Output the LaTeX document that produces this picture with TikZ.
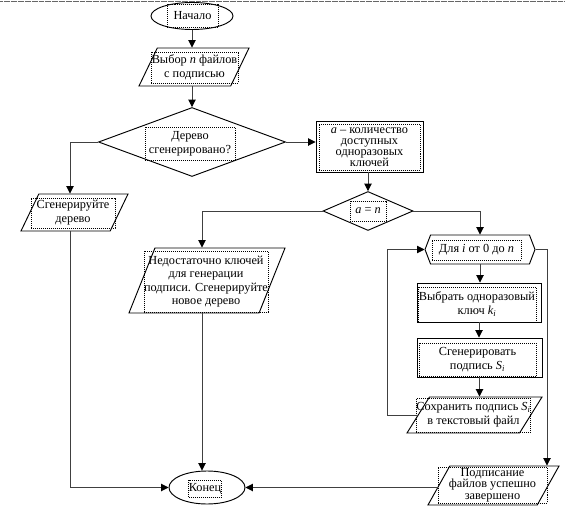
\documentclass[tikz,border=0pt]{standalone}
\usepackage{fontspec}
\setmainfont{Liberation Serif}
\usetikzlibrary{shapes.geometric, shapes.symbols, arrows.meta}

\tikzset{
    outline/.style={draw=black, line width=0.8pt, inner sep=1pt},
    terminal/.style={outline, ellipse},
    io/.style={outline, trapezium, trapezium left angle=76, trapezium right angle=104, trapezium stretches=true},
    process/.style={outline, rectangle},
    decision/.style={outline, diamond},
    loophead/.style={outline, signal, signal to=west and east, signal pointer angle=138},
    textframe/.style={draw=black, line width=0.6pt, dash pattern=on 0.85pt off 0.85pt, inner sep=0pt, align=center, font=\fontsize{10.5}{12}\selectfont},
    conn/.style={draw=black!75, line width=0.75pt},
    connarrow/.style={conn, -{Triangle[length=2.2mm, width=2.2mm, black]}}
}

\begin{document}
\begin{tikzpicture}[x=0.3mm, y=-0.3mm]
  \useasboundingbox (0,0) rectangle (565,518);
  \draw[black!60, line width=0.6pt, dash pattern=on 0.5pt off 0.5pt] (0,1) -- (565,1);

  % vertical lines of the branches
  \coordinate (leftx) at (70,0);
  \coordinate (midx) at (202,0);
  \coordinate (loopx) at (387,0);
  \coordinate (exitx) at (547,0);

  \node[terminal, minimum width=24.6mm, minimum height=8.1mm] (start) at (192,16) {};
  \node[textframe, minimum width=15.3mm, minimum height=6.9mm] (startt) at (192.5,15.5) {Начало};

  \node[io, minimum width=33mm, minimum height=11.4mm] (select) at (194,67) {};
  \node[textframe, minimum width=26.1mm, minimum height=9.3mm] (selectt) at (194.5,67.5) {Выбор \textit{n} файлов\\с подписью};

  \node[decision, minimum width=56.1mm, minimum height=20.7mm] (tree) at (192,142) {};
  \node[textframe, minimum width=27mm, minimum height=9.9mm] (treet) at (190,143.5) {Дерево\\сгенерировано?};

  \node[process, minimum width=32.1mm, minimum height=15.3mm] (count) at (369.5,146.5) {};
  \node[textframe, minimum width=30.3mm, minimum height=13.8mm, font=\fontsize{10.5}{9.5}\selectfont] (countt) at (369.5,147) {\textit{a} – количество\\доступных\\одноразовых\\ключей};

  \node[decision, minimum width=27mm, minimum height=11.7mm] (equal) at (368,211) {};
  \node[textframe, minimum width=10.8mm, minimum height=6mm] (equalt) at (368,211) {\textit{a} = \textit{n}};

  \node[io, minimum width=32.1mm, minimum height=11.1mm] (gentree) at (74.5,212.5) {};
  \node[textframe, minimum width=25.2mm, minimum height=9mm] (gentreet) at (73,213) {Сгенерируйте\\дерево};

  \node[io, minimum width=46.8mm, minimum height=19.5mm] (lack) at (207,280.5) {};
  \node[textframe, minimum width=35.4mm, minimum height=18.3mm, font=\fontsize{10.5}{11.5}\selectfont] (lackt) at (206,281.5) {Недостаточно ключей\\для генерации\\подписи. Сгенерируйте\\новое дерево};

  \node[loophead, minimum width=33mm, minimum height=8.7mm] (forloop) at (480,249.5) {};
  \node[textframe, minimum width=26.7mm, minimum height=6mm] (forloopt) at (476.5,250) {Для \textit{i} от 0 до \textit{n}};

  \node[process, minimum width=37.2mm, minimum height=11.7mm] (pick) at (479,302.5) {};
  \node[textframe, minimum width=35.4mm, minimum height=10.5mm] (pickt) at (477,304.5) {Выбрать одноразовый\\ключ \textit{k\textsubscript{i}}};

  \node[process, minimum width=37.5mm, minimum height=11.7mm] (sign) at (479.5,357.5) {};
  \node[textframe, minimum width=35.1mm, minimum height=9.9mm] (signt) at (477.5,359.5) {Сгенерировать\\подпись \textit{S\textsubscript{i}}};

  \node[io, minimum width=40.5mm, minimum height=10.8mm] (save) at (474.5,415) {};
  \node[textframe, minimum width=33.9mm, minimum height=10.2mm] (savet) at (473.5,415) {Сохранить подпись \textit{S\textsubscript{i}}\\в текстовый файл};

  \node[io, minimum width=39.3mm, minimum height=11.7mm] (done) at (493.5,485.5) {};
  \node[textframe, minimum width=32.7mm, minimum height=10.8mm, font=\fontsize{10.5}{10}\selectfont] (donet) at (492.5,485) {Подписание\\файлов успешно\\завершено};

  \node[terminal, minimum width=22.8mm, minimum height=9.9mm] (finish) at (207,487.5) {};
  \node[textframe, minimum width=9.6mm, minimum height=5.1mm] (finisht) at (205,488.5) {Конец};

  \draw[connarrow] (start.south) -- (start.south |- select.north);
  \draw[connarrow] (tree.north |- select.south) -- (tree.north);
  \draw[connarrow] (tree.west) -| (leftx |- gentree.north);
  \draw[connarrow] (tree.east) -- (tree.east -| count.west);
  \draw[connarrow] (equal.north |- count.south) -- (equal.north);
  \draw[connarrow] (equal.east) -| (forloop.north);
  \draw[connarrow] (equal.west) -| (midx |- lack.north);
  \draw[connarrow] (leftx |- gentree.south) |- (finish.west);
  \draw[connarrow] (midx |- lack.south) -- (midx |- finish.north);
  \draw[connarrow] (forloop.south) -- (forloop.south |- pick.north);
  \draw[connarrow] (pick.south) -- (pick.south |- sign.north);
  \draw[connarrow] (sign.south) -- (sign.south |- save.north);
  \draw[connarrow] (save.west) -- (save.west -| loopx) |- (forloop.west);
  \draw[connarrow] (forloop.east) -| (exitx |- done.north);
  \draw[connarrow] (done.west |- finish.east) -- (finish.east);
\end{tikzpicture}
\end{document}
